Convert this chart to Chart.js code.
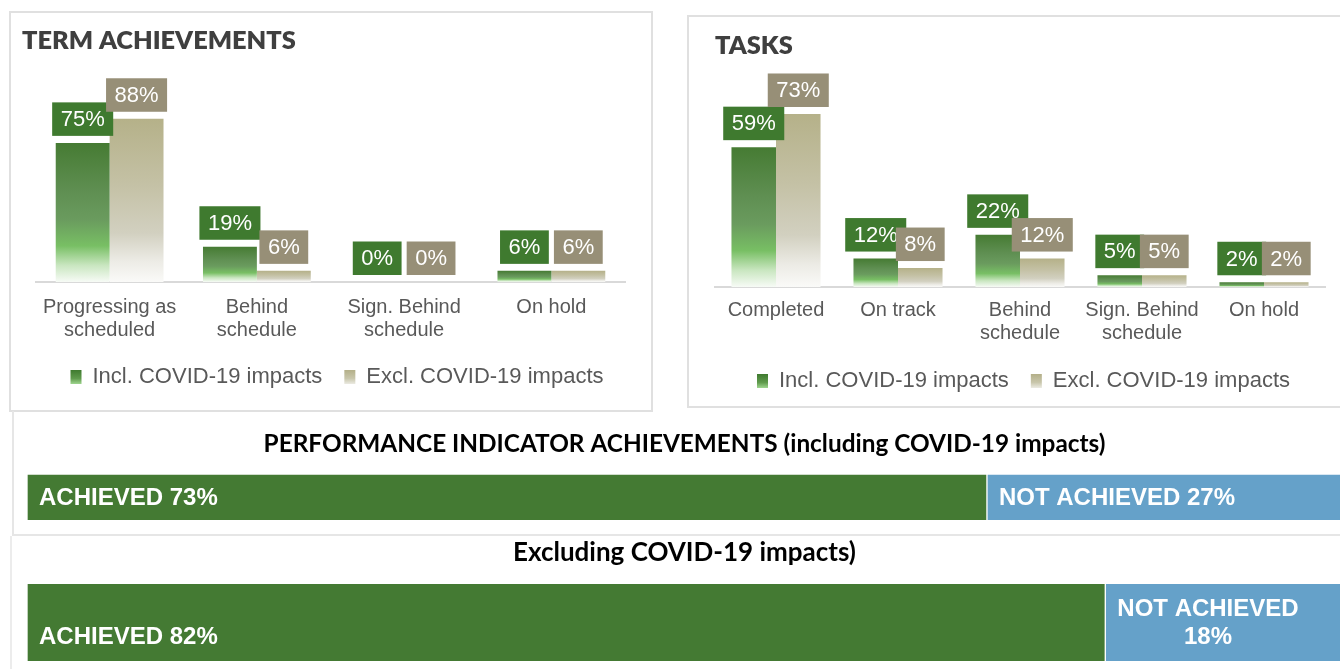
<!DOCTYPE html>
<html>
<head>
<meta charset="utf-8">
<script src="https://cdn.jsdelivr.net/npm/chart.js@4.4.0/dist/chart.umd.min.js"></script>
<style>
html,body{margin:0;padding:0;background:#fff;width:1340px;height:669px;overflow:hidden;position:relative;}
canvas{position:absolute;}
.box{position:absolute;box-sizing:border-box;}
#boxTerm{left:9px;top:11px;width:644px;height:401px;border:2px solid #e0e0e0;}
#boxTasks{left:687px;top:15px;width:700px;height:393px;border:2px solid #e0e0e0;}
#boxPi1{left:12px;top:411px;width:1340px;height:125px;border-left:2px solid #e6e6e6;border-bottom:2px solid #e6e6e6;}
#boxPi2{left:10px;top:536px;width:1340px;height:140px;border-left:2px solid #ececec;}
</style>
</head>
<body>
<div class="box" id="boxTerm"></div>
<div class="box" id="boxTasks"></div>
<div class="box" id="boxPi1"></div>
<div class="box" id="boxPi2"></div>
<canvas id="cTerm" width="642" height="399" style="left:10px;top:12px"></canvas>
<canvas id="cTasks" width="644" height="391" style="left:688px;top:16px"></canvas>
<canvas id="cPi1" width="1345" height="123" style="left:0px;top:412px"></canvas>
<canvas id="cPi2" width="1345" height="133" style="left:0px;top:536px"></canvas>
<script>
// ---------------- DATA ----------------
const seriesNames = ['Incl. COVID-19 impacts', 'Excl. COVID-19 impacts'];

const termTitle = 'TERM ACHIEVEMENTS';
const termCategories = [['Progressing as', 'scheduled'], ['Behind', 'schedule'], ['Sign. Behind', 'schedule'], 'On hold'];
const termIncl = [75, 19, 0, 6];
const termExcl = [88, 6, 0, 6];

const taskTitle = 'TASKS';
const taskCategories = ['Completed', 'On track', ['Behind', 'schedule'], ['Sign. Behind', 'schedule'], 'On hold'];
const taskIncl = [59, 12, 22, 5, 2];
const taskExcl = [73, 8, 12, 5, 2];

const piSegmentNames = ['Achieved', 'Not achieved'];
const pi1Title = 'PERFORMANCE INDICATOR ACHIEVEMENTS (including COVID-19 impacts)';
const pi1Categories = ['Including COVID-19 impacts'];
const pi1Achieved = [73];
const pi1NotAchieved = [27];

const pi2Title = 'Excluding COVID-19 impacts)';
const pi2Categories = ['Excluding COVID-19 impacts'];
const pi2Achieved = [82];
const pi2NotAchieved = [18];

// ---------------- STYLE ----------------
const TITLE_FAMILY = "Lato, 'Open Sans', sans-serif";
const BODY_FAMILY = "'Liberation Sans', Arial, sans-serif";
Chart.defaults.font.family = BODY_FAMILY;

function fitSize(text, weight, family, targetWidth) {
  const c = document.createElement('canvas').getContext('2d');
  c.font = weight + ' 100px ' + family;
  return 100 * targetWidth / c.measureText(text).width;
}

const greenStops = [[0, '#467b33'], [0.35, '#5f8f52'], [0.55, '#6a9b5e'], [0.74, '#78bf64'], [0.88, '#c9e6c0'], [1, '#f7fbf6']];
const tanStops = [[0, '#b5b189'], [0.4, '#c4c1a5'], [0.7, '#d2d0c0'], [0.87, '#ecebe5'], [1, '#fafaf8']];

function gradientFill(stops, fallback) {
  return (ctx) => {
    if (ctx.type !== 'data') return fallback;
    const chart = ctx.chart;
    const ys = chart.scales && chart.scales.y;
    if (!chart.chartArea || !ys) return fallback;
    const top = ys.getPixelForValue(ctx.raw);
    const base = ys.getPixelForValue(0);
    if (!(base - top > 0.5)) return fallback;
    const g = chart.ctx.createLinearGradient(0, top, 0, base);
    stops.forEach(([o, c]) => g.addColorStop(o, c));
    return g;
  };
}

// value labels in boxes above columns
const boxLabelPlugin = {
  id: 'boxLabels',
  afterDatasetsDraw(chart, args, opts) {
    const ctx = chart.ctx;
    ctx.save();
    ctx.font = opts.size + 'px ' + BODY_FAMILY;
    ctx.textAlign = 'center';
    ctx.textBaseline = 'middle';
    chart.data.datasets.forEach((ds, di) => {
      const meta = chart.getDatasetMeta(di);
      meta.data.forEach((bar, i) => {
        const text = ds.data[i] + '%';
        const w = ctx.measureText(text).width + 2 * opts.padX;
        const h = opts.height;
        const bottom = bar.y - opts.gap;
        ctx.fillStyle = ds.labelBg;
        ctx.fillRect(bar.x - w / 2, bottom - h, w, h);
        ctx.fillStyle = '#ffffff';
        ctx.fillText(text, bar.x, bottom - h / 2 + 1);
      });
    });
    ctx.restore();
  }
};

// gradient fill for the legend markers, drawn over the legend boxes
const legendGradientPlugin = {
  id: 'legendGradient',
  afterDraw(chart) {
    const lg = chart.legend;
    if (!lg || !lg.legendHitBoxes) return;
    const ctx = chart.ctx;
    const bw = lg.options.labels.boxWidth, bh = lg.options.labels.boxHeight;
    lg.legendHitBoxes.forEach((hb, i) => {
      const ds = chart.data.datasets[i];
      const y0 = hb.top + (hb.height - bh) / 2;
      const g = ctx.createLinearGradient(0, y0, 0, y0 + bh);
      ds.legendStops.forEach(([o, c]) => g.addColorStop(o, c));
      ctx.save();
      ctx.fillStyle = '#ffffff';
      ctx.fillRect(hb.left - 1, y0 - 1, bw + 2, bh + 2);
      ctx.fillStyle = g;
      ctx.fillRect(hb.left, y0, bw, bh);
      ctx.restore();
    });
  }
};

function wrapText(ctx, text, maxW) {
  const words = text.split(' ');
  const lines = [];
  let cur = '';
  words.forEach(w => {
    const t = cur ? cur + ' ' + w : w;
    if (cur && ctx.measureText(t).width > maxW) { lines.push(cur); cur = w; }
    else cur = t;
  });
  if (cur) lines.push(cur);
  return lines;
}

// labels inside stacked horizontal segments
const segLabelPlugin = {
  id: 'segLabels',
  afterDatasetsDraw(chart, args, opts) {
    const ctx = chart.ctx;
    ctx.save();
    ctx.font = 'bold ' + opts.size + 'px ' + BODY_FAMILY;
    ctx.fillStyle = '#ffffff';
    ctx.textBaseline = 'middle';
    ctx.textAlign = 'left';
    const items = [];
    chart.data.datasets.forEach((ds, di) => {
      const meta = chart.getDatasetMeta(di);
      meta.data.forEach((bar, i) => {
        const left = Math.min(bar.x, bar.base), right = Math.max(bar.x, bar.base);
        const text = ds.label.toUpperCase() + ' ' + ds.data[i] + '%';
        const lines = wrapText(ctx, text, right - left - 2 * opts.pad);
        items.push({ bar, left, lines });
      });
    });
    const maxLines = Math.max(...items.map(it => it.lines.length));
    items.forEach(({ bar, left, lines }) => {
      const blockW = Math.max(...lines.map(l => ctx.measureText(l).width));
      const x0 = left + opts.pad;
      const firstY = bar.y - (maxLines - 1) * opts.lineHeight / 2 + (maxLines - lines.length) * opts.lineHeight + 1;
      lines.forEach((l, k) => {
        const w = ctx.measureText(l).width;
        const x = lines.length > 1 ? x0 + (blockW - w) / 2 : x0;
        ctx.fillText(l, x, firstY + k * opts.lineHeight);
      });
    });
    ctx.restore();
  }
};

function makeColumnChart(canvasId, o) {
  const S = o.titleSize;
  const padTop = o.titleCenter - 0.6 * S;
  const legendFont = 22, legendPad = 22, boxH = 14;
  const legendH = Math.max(legendFont, boxH) + legendPad + 10;
  const legendTop = o.legendCenter - legendPad - legendFont / 2;
  const padBottom = o.height - legendTop - legendH;
  const areaTop = o.axisY - o.pxPerUnit * o.yMax;
  return new Chart(document.getElementById(canvasId), {
    type: 'bar',
    data: {
      labels: o.categories,
      datasets: [
        { label: seriesNames[0], data: o.incl, backgroundColor: gradientFill(greenStops, '#558f41'), labelBg: '#3f7a2f', legendFill: '#5a9446',
          legendStops: [[0, '#3f7a2f'], [0.6, '#5f9a4c'], [1, '#9fd58f']], borderWidth: 0 },
        { label: seriesNames[1], data: o.excl, backgroundColor: gradientFill(tanStops, '#c5c2a4'), labelBg: '#978f77', legendFill: '#c9c6ab',
          legendStops: [[0, '#b3af88'], [0.6, '#c8c6ab'], [1, '#ebeae2']], borderWidth: 0 }
      ]
    },
    options: {
      responsive: false, animation: false, devicePixelRatio: 1,
      layout: { padding: { left: o.padLeft, right: 0, top: 0, bottom: padBottom } },
      datasets: { bar: { barPercentage: 1, categoryPercentage: o.catPct } },
      scales: {
        x: {
          grid: { display: false, drawTicks: false },
          border: { display: true, color: '#d9d9d9', width: 2 },
          ticks: { color: '#595959', font: { size: 20, lineHeight: 1.15 }, padding: o.tickPad, maxRotation: 0, autoSkip: false },
          afterFit: (s) => { s.height = o.height - padBottom - legendH - o.axisY; }
        },
        y: {
          min: 0, max: o.yMax, display: true,
          grid: { display: false, drawTicks: false }, border: { display: false }, ticks: { display: false },
          afterFit: (s) => { s.width = o.yWidth; }
        },
        yr: {
          type: 'linear', position: 'right', display: true,
          grid: { display: false, drawTicks: false }, border: { display: false }, ticks: { display: false },
          afterFit: (s) => { s.width = o.rightWidth; }
        }
      },
      plugins: {
        title: {
          display: true, text: o.title, align: 'start', color: '#3f3f3f',
          font: { family: TITLE_FAMILY, weight: o.titleWeight, size: S, lineHeight: 1.2 },
          padding: { top: padTop, bottom: areaTop - padTop - 1.2 * S }
        },
        legend: {
          position: 'bottom',
          labels: {
            color: '#595959', font: { size: legendFont }, boxWidth: 11, boxHeight: boxH, padding: legendPad,
            generateLabels: (chart) => chart.data.datasets.map((ds, i) => ({
              text: ds.label, fillStyle: ds.legendFill, strokeStyle: ds.legendFill, lineWidth: 0,
              hidden: false, datasetIndex: i, fontColor: '#595959'
            }))
          }
        },
        tooltip: { enabled: false },
        boxLabels: { size: 22, padX: 8.5, height: 33.5, gap: 7 }
      }
    },
    plugins: [boxLabelPlugin, legendGradientPlugin]
  });
}

function makePiChart(canvasId, o) {
  const S = o.titleSize;
  const padTop = o.titleCenter - 0.6 * S;
  const seg = { borderColor: 'rgba(255,255,255,0.75)', borderWidth: 1, borderSkipped: false };
  return new Chart(document.getElementById(canvasId), {
    type: 'bar',
    data: {
      labels: o.categories,
      datasets: [
        Object.assign({ label: piSegmentNames[0], data: o.achieved, backgroundColor: '#447a33' }, seg),
        Object.assign({ label: piSegmentNames[1], data: o.notAchieved, backgroundColor: '#65a1c9' }, seg)
      ]
    },
    options: {
      indexAxis: 'y', responsive: false, animation: false, devicePixelRatio: 1,
      layout: { padding: { left: o.areaLeft, right: o.width - o.areaRight, top: 0, bottom: o.height - o.areaBottom } },
      datasets: { bar: { barPercentage: 1, categoryPercentage: 1 } },
      scales: {
        x: { stacked: true, min: 0, max: 100, display: false },
        y: { stacked: true, display: false }
      },
      plugins: {
        title: {
          display: true, text: o.title, align: 'center', color: '#000000',
          font: { family: TITLE_FAMILY, weight: 'bold', size: S, lineHeight: 1.2 },
          padding: { top: padTop, bottom: o.areaTop - padTop - 1.2 * S }
        },
        legend: { display: false },
        tooltip: { enabled: false },
        segLabels: { size: 24, pad: 12, lineHeight: 28 }
      }
    },
    plugins: [segLabelPlugin]
  });
}

const TOP_TITLE_WEIGHT = '800';
const topTitleSize = fitSize(termTitle, TOP_TITLE_WEIGHT, TITLE_FAMILY, 274);

makeColumnChart('cTerm', {
  title: termTitle, categories: termCategories, incl: termIncl, excl: termExcl,
  height: 399, titleSize: topTitleSize, titleWeight: TOP_TITLE_WEIGHT, titleCenter: 28.5, legendCenter: 365,
  axisY: 270, pxPerUnit: 1.855, yMax: 100, padLeft: 12, yWidth: 14, rightWidth: 27,
  catPct: 0.732, tickPad: 14
});

makeColumnChart('cTasks', {
  title: taskTitle, categories: taskCategories, incl: taskIncl, excl: taskExcl,
  height: 391, titleSize: topTitleSize, titleWeight: TOP_TITLE_WEIGHT, titleCenter: 30.2, legendCenter: 365,
  axisY: 271, pxPerUnit: 2.37, yMax: 80, padLeft: 27, yWidth: 0, rightWidth: 7,
  catPct: 0.73, tickPad: 12
});

makePiChart('cPi1', {
  title: pi1Title, categories: pi1Categories, achieved: pi1Achieved, notAchieved: pi1NotAchieved,
  width: 1345, height: 123, titleSize: fitSize(pi1Title, 'bold', TITLE_FAMILY, 842), titleCenter: 32,
  areaLeft: 27, areaRight: 1342, areaTop: 62, areaBottom: 108.7
});

makePiChart('cPi2', {
  title: pi2Title, categories: pi2Categories, achieved: pi2Achieved, notAchieved: pi2NotAchieved,
  width: 1345, height: 133, titleSize: fitSize(pi2Title, 'bold', TITLE_FAMILY, 343), titleCenter: 17,
  areaLeft: 27, areaRight: 1342, areaTop: 47.3, areaBottom: 125.7
});
</script>
</body>
</html>
